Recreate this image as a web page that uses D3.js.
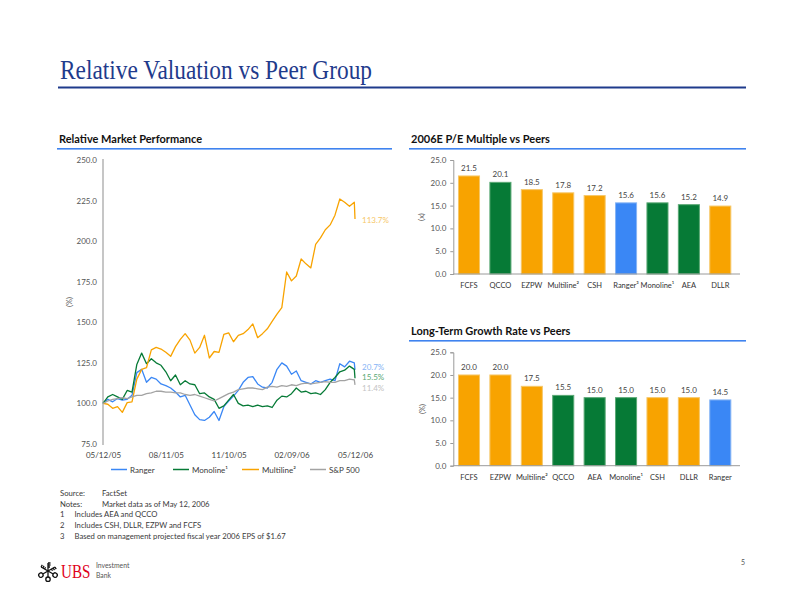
<!DOCTYPE html>
<html><head><meta charset="utf-8">
<script src="https://cdn.jsdelivr.net/npm/d3@7"></script>
<style>
body{margin:0;background:#fff}
svg{display:block}
text{font-family:Lato,'Open Sans',sans-serif}
</style>
</head><body>
<svg id="c" width="792" height="612"></svg>
<script>
// ---------- DATA ----------
const perfDates = ["2005-05-12","2005-05-19","2005-05-26","2005-06-02","2005-06-09","2005-06-16","2005-06-23","2005-06-30","2005-07-07","2005-07-14","2005-07-21","2005-07-28","2005-08-04","2005-08-11","2005-08-18","2005-08-25","2005-09-01","2005-09-08","2005-09-15","2005-09-22","2005-09-29","2005-10-06","2005-10-13","2005-10-20","2005-10-27","2005-11-03","2005-11-10","2005-11-17","2005-11-24","2005-12-01","2005-12-08","2005-12-15","2005-12-22","2005-12-29","2006-01-05","2006-01-12","2006-01-19","2006-01-26","2006-02-02","2006-02-09","2006-02-16","2006-02-23","2006-03-02","2006-03-09","2006-03-16","2006-03-23","2006-03-30","2006-04-06","2006-04-13","2006-04-20","2006-04-27","2006-05-04","2006-05-11","2006-05-12"];
const rangerValues = [100.0,102.5,101.0,103.0,102.0,102.5,105.0,119.0,121.0,113.0,116.0,115.0,112.0,111.0,109.5,107.0,104.0,105.0,99.0,93.0,90.0,89.5,91.5,95.0,89.5,98.0,101.5,104.5,108.0,113.0,116.0,116.5,112.0,110.0,109.5,113.0,121.0,125.0,123.0,118.0,120.0,114.0,113.0,112.0,114.0,113.0,114.0,115.0,114.0,124.5,122.5,126.0,125.0,120.7];
const monolineValues = [100.0,104.0,105.5,104.0,102.5,108.0,107.0,124.0,131.0,124.5,127.5,125.0,123.5,119.5,114.0,117.5,111.5,114.0,112.0,111.5,106.0,106.5,104.0,102.5,97.0,98.5,102.0,105.5,100.0,98.5,99.0,98.0,99.0,98.0,98.5,97.5,102.0,104.5,104.0,106.0,109.5,107.0,107.5,106.0,106.5,105.5,108.5,113.0,116.0,119.5,120.5,123.0,121.0,115.5];
const multilineValues = [100.0,99.5,97.0,98.0,94.5,100.5,101.0,115.0,121.0,122.0,133.0,134.5,133.5,131.5,129.0,135.0,139.5,143.0,139.0,131.0,134.5,142.0,128.0,132.0,131.5,142.5,143.5,138.0,142.0,143.0,145.5,149.0,140.5,143.0,146.0,150.5,155.0,159.0,181.0,175.5,178.5,189.0,186.0,183.5,198.0,202.0,207.0,210.0,216.0,226.0,224.0,221.5,224.0,213.7];
const spValues = [100.0,101.5,102.5,103.0,103.5,103.0,104.0,105.0,105.0,106.0,106.5,107.5,107.5,107.0,107.0,106.5,106.5,105.5,105.0,105.5,104.5,103.5,102.5,101.5,103.0,104.5,106.0,107.0,108.5,109.0,109.5,109.5,109.0,108.5,110.0,110.5,110.0,111.0,110.5,111.5,111.0,112.0,112.5,112.0,112.5,113.0,113.5,113.0,113.0,114.0,114.0,115.0,114.5,111.4];
const seriesNames = ["Ranger","Monoline\u00B9","Multiline\u00B2","S&P 500"];
const endLabels = ["20.7%","15.5%","113.7%","11.4%"];
const perfXTicks = ["05/12/05","08/11/05","11/10/05","02/09/06","05/12/06"];
const perfYTicks = [75,100,125,150,175,200,225,250];

const peCategories = ["FCFS","QCCO","EZPW","Multiline\u00B2","CSH","Ranger\u00B3","Monoline\u00B9","AEA","DLLR"];
const peValues = [21.5,20.1,18.5,17.8,17.2,15.6,15.6,15.2,14.9];
const peGroups = ["multi","mono","multi","multi","multi","ranger","mono","mono","multi"];

const growthCategories = ["FCFS","EZPW","Multiline\u00B2","QCCO","AEA","Monoline\u00B9","CSH","DLLR","Ranger"];
const growthValues = [20.0,20.0,17.5,15.5,15.0,15.0,15.0,15.0,14.5];
const growthGroups = ["multi","multi","multi","mono","mono","mono","multi","multi","ranger"];
const barYTicks = [0,5,10,15,20,25];

const footnotes = [
  ["Source:","FactSet"],
  ["Notes:","Market data as of May 12, 2006"],
  ["1","Includes AEA and QCCO"],
  ["2","Includes CSH, DLLR, EZPW and FCFS"],
  ["3","Based on management projected fiscal year 2006 EPS of $1.67"]
];

// ---------- STYLE ----------
const C = {ranger:"#3a87f5", mono:"#067a36", multi:"#f8a300", sp:"#a3a3a3"};
const CL = {ranger:"#86b4f5", mono:"#5aa874", multi:"#f6c768", sp:"#c4c4c4"};
const serieKeys = ["ranger","mono","multi","sp"];
const navy = "#1f3b8c";
const lightBlue = "#3f83ef";
const txt = "#3a3a3a";
const serif = "'Liberation Serif','DejaVu Serif',serif";

const svg = d3.select("#c");

// Title
svg.append("text").attr("x",60).attr("y",79)
  .style("font-family",serif)
  .attr("font-size",27).attr("fill",navy)
  .attr("textLength",312).attr("lengthAdjust","spacingAndGlyphs")
  .text("Relative Valuation vs Peer Group");
svg.append("rect").attr("x",58).attr("y",86.5).attr("width",688).attr("height",2).attr("fill",navy);

function header(x,y,w,label){
  svg.append("text").attr("x",x+2).attr("y",y).attr("font-size",11).attr("font-weight","bold")
    .attr("fill","#111").text(label);
  svg.append("rect").attr("x",x).attr("y",y+5).attr("width",w).attr("height",1.6).attr("fill",lightBlue);
}
header(57,143,335,"Relative Market Performance");
header(409,143,337,"2006E P/E Multiple vs Peers");
header(409,335,337,"Long-Term Growth Rate vs Peers");

// ---------- LINE CHART ----------
const parse = d3.timeParse("%Y-%m-%d");
const tparse = d3.timeParse("%m/%d/%y");
const dates = perfDates.map(parse);
const x = d3.scaleTime().domain([dates[0], dates[dates.length-1]]).range([103,355]);
const y = d3.scaleLinear().domain([75,250]).range([444,160]);

const gL = svg.append("g");
gL.append("line").attr("x1",103).attr("x2",103).attr("y1",159).attr("y2",445)
  .attr("stroke","#c6c6c6").attr("stroke-width",2);
const yAx = gL.append("g").attr("transform","translate(103,0)")
  .call(d3.axisLeft(y).tickValues(perfYTicks).tickFormat(d3.format(".1f")).tickSize(0).tickPadding(6));
yAx.select(".domain").remove();
yAx.selectAll("text").attr("font-size",8).attr("fill","#555").style("font-family","Lato,sans-serif");

const xAx = gL.append("g").attr("transform","translate(0,444)")
  .call(d3.axisBottom(x).tickValues(perfXTicks.map(tparse)).tickFormat(d3.timeFormat("%m/%d/%y")).tickSize(0).tickPadding(8));
xAx.select(".domain").remove();
xAx.selectAll("text").attr("font-size",8).attr("fill","#444").style("font-family","Lato,sans-serif");

gL.append("text").attr("transform","translate(72,302) rotate(-90)").attr("text-anchor","middle")
  .attr("font-size",7.5).attr("fill","#555").text("(%)");

const allSeries = [rangerValues, monolineValues, multilineValues, spValues];
const line = d3.line().x((d,i)=>x(dates[i])).y(d=>y(d));
allSeries.forEach((vals,k)=>{
  gL.append("path").datum(vals).attr("d",line).attr("fill","none")
    .attr("stroke",C[serieKeys[k]]).attr("stroke-width",1.3).attr("stroke-linejoin","round");
});
// end labels
const endY = [366.5, 377, 219.5, 387.5];
allSeries.forEach((vals,k)=>{
  gL.append("text").attr("x",362).attr("y",endY[k]+3).attr("font-size",8)
    .attr("fill",CL[serieKeys[k]]).text(endLabels[k]);
});
// legend
const legX = [111,173,242,310];
const legW = [16,16,17,16];
seriesNames.forEach((n,k)=>{
  gL.append("line").attr("x1",legX[k]).attr("x2",legX[k]+legW[k]).attr("y1",469.5).attr("y2",469.5)
    .attr("stroke",C[serieKeys[k]]).attr("stroke-width",1.5);
  gL.append("text").attr("x",legX[k]+legW[k]+3).attr("y",472.5).attr("font-size",8)
    .attr("fill",txt).text(n);
});

// ---------- BAR CHARTS ----------
function barChart(cats, vals, groups, yTop, yBot, ylabel, ylabelX, ylabelY){
  const g = svg.append("g");
  const xb = d3.scaleBand().domain(cats).range([453.3,736]).paddingInner(0.33).paddingOuter(0.165);
  const yb = d3.scaleLinear().domain([0,25]).range([yBot,yTop]);
  const ax = g.append("g").attr("transform","translate(453.3,0)")
    .call(d3.axisLeft(yb).tickValues(barYTicks).tickFormat(d3.format(".1f")).tickSize(3).tickPadding(4));
  ax.select(".domain").attr("stroke","#9a9a9a");
  ax.selectAll(".tick line").attr("stroke","#9a9a9a");
  ax.selectAll("text").attr("font-size",8).attr("fill","#555").style("font-family","Lato,sans-serif");
  g.selectAll("rect.bar").data(cats).enter().append("rect").attr("class","bar")
    .attr("x",d=>xb(d)).attr("width",xb.bandwidth())
    .attr("y",(d,i)=>yb(vals[i])).attr("height",(d,i)=>yb(0)-yb(vals[i]))
    .attr("fill",(d,i)=>C[groups[i]]).attr("stroke",(d,i)=>CL[groups[i]]).attr("stroke-width",1);
  g.append("line").attr("x1",453.3).attr("x2",740).attr("y1",yBot).attr("y2",yBot)
    .attr("stroke","#9a9a9a").attr("stroke-width",1);
  g.selectAll("text.val").data(cats).enter().append("text").attr("class","val")
    .attr("x",d=>xb(d)+xb.bandwidth()/2).attr("y",(d,i)=>yb(vals[i])-5)
    .attr("text-anchor","middle").attr("font-size",8).attr("fill","#444")
    .text((d,i)=>d3.format(".1f")(vals[i]));
  g.selectAll("text.cat").data(cats).enter().append("text").attr("class","cat")
    .attr("x",d=>xb(d)+xb.bandwidth()/2).attr("y",yBot+14)
    .attr("text-anchor","middle").attr("font-size",7.5).attr("fill","#333").text(d=>d);
  g.append("text").attr("transform",`translate(${ylabelX},${ylabelY}) rotate(-90)`)
    .attr("text-anchor","middle").attr("font-size",7.5).attr("fill","#555").text(ylabel);
}
barChart(peCategories, peValues, peGroups, 160, 274, "(x)", 424, 217);
barChart(growthCategories, growthValues, growthGroups, 352.3, 465.7, "(%)", 425, 409);

// ---------- FOOTNOTES ----------
footnotes.forEach((f,i)=>{
  const yy = 496 + i*10.7;
  const numeric = i>=2;
  svg.append("text").attr("x",60).attr("y",yy).attr("font-size",7.7).attr("fill",txt).text(f[0]);
  svg.append("text").attr("x",numeric?74.5:102).attr("y",yy).attr("font-size",7.7).attr("fill",txt).text(f[1]);
});

// ---------- LOGO ----------
const lg = svg.append("g").attr("transform","translate(48,571)").attr("stroke","#111").attr("fill","none").attr("stroke-width",1.3);
[-60,0,60].forEach(a=>{
  const k = lg.append("g").attr("transform",`rotate(${a})`);
  k.append("line").attr("x1",0).attr("y1",-8).attr("x2",0).attr("y2",6);
  k.append("circle").attr("cx",0).attr("cy",8.2).attr("r",2.2);
  k.append("path").attr("d","M0,-8 h2.5 M0,-6 h2.5 M0,-4 h2");
});
svg.append("text").attr("transform","translate(61,577.5) scale(0.84,1)").style("font-family",serif)
  .attr("font-size",18).attr("fill","#e0001a").text("UBS");
svg.append("text").attr("x",96).attr("y",568).attr("font-size",6.8).attr("fill","#555").text("Investment");
svg.append("text").attr("x",96).attr("y",578).attr("font-size",6.8).attr("fill","#555").text("Bank");
svg.append("text").attr("x",741).attr("y",565).attr("font-size",7).attr("fill","#555").text("5");
</script>
</body></html>
